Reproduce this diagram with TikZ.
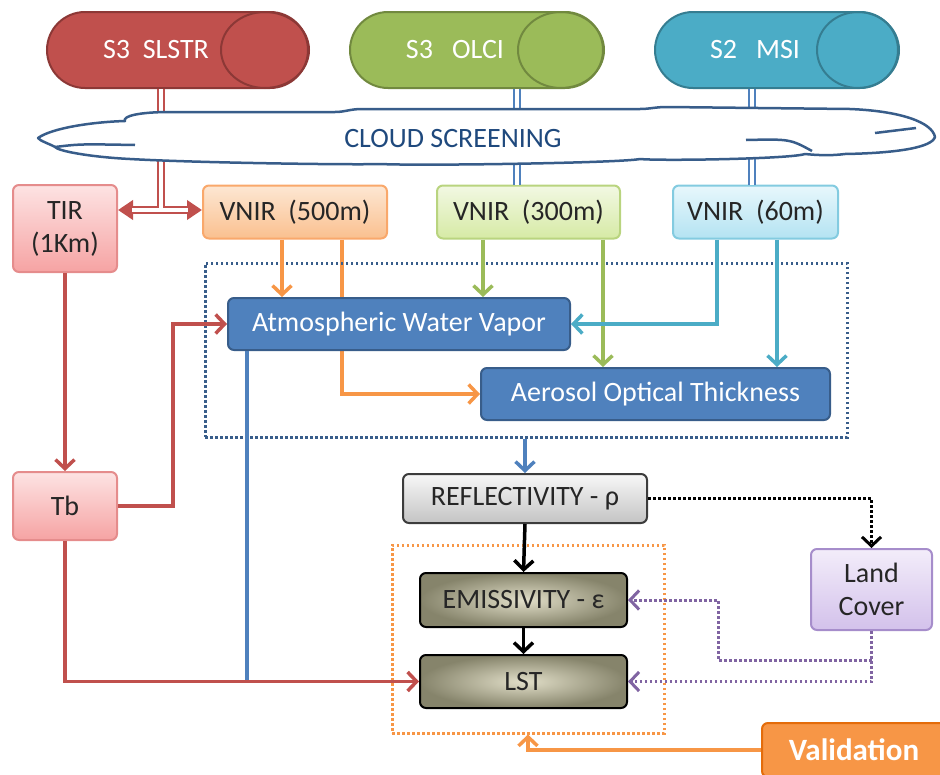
\documentclass[tikz,border=0pt]{standalone}
\usepackage{fontspec}
\setmainfont{Carlito}
\usetikzlibrary{arrows.meta,shapes.misc,calc}
\definecolor{redc}{HTML}{C0504D}
\definecolor{redd}{HTML}{8C3836}
\definecolor{grnc}{HTML}{9BBB59}
\definecolor{grnd}{HTML}{71893F}
\definecolor{cyac}{HTML}{4BACC6}
\definecolor{cyad}{HTML}{357D91}
\definecolor{bluc}{HTML}{4F81BD}
\definecolor{blud}{HTML}{385D8A}
\definecolor{navy}{HTML}{1F497D}
\definecolor{orac}{HTML}{F79646}
\definecolor{orad}{HTML}{E46C0A}
\definecolor{purc}{HTML}{8064A2}
\definecolor{pinkt}{HTML}{FDE3E3}
\definecolor{pinkb}{HTML}{F6A3A3}
\definecolor{pinkd}{HTML}{E58C8C}
\definecolor{oret}{HTML}{FDE7D3}
\definecolor{oreb}{HTML}{FAC08F}
\definecolor{ored}{HTML}{F9A86B}
\definecolor{grt}{HTML}{F2F8E3}
\definecolor{grb}{HTML}{D6EAA5}
\definecolor{grd}{HTML}{B9D47F}
\definecolor{cyt}{HTML}{E8F7FC}
\definecolor{cyb}{HTML}{B3E3F2}
\definecolor{cyd}{HTML}{83CBE0}
\definecolor{gyt}{HTML}{F7F7F7}
\definecolor{gyb}{HTML}{C4C4C4}
\definecolor{gyd}{HTML}{3C3C3C}
\definecolor{khi}{HTML}{E2DFC9}
\definecolor{kho}{HTML}{86846B}
\definecolor{lvt}{HTML}{F3EDFA}
\definecolor{lvb}{HTML}{D3C1EB}
\definecolor{lvd}{HTML}{A68DCB}
\definecolor{txt}{HTML}{262626}
\pgfdeclarelayer{bg}
\pgfsetlayers{bg,main}
\tikzset{
  capsule/.style={rounded rectangle, draw, line width=2pt, minimum height=76pt, text=white, inner sep=0pt},
  box/.style={rounded corners=6pt, draw, line width=2pt, inner sep=0pt, align=center},
  conn/.style={line width=3.5pt, -{Straight Barb[length=9pt,width=19pt]}},
  plain/.style={line width=3.5pt},
  dbl/.style={line width=2.5pt, double=white, double distance=3.5pt},
  dots/.style={line width=3pt, dash pattern=on 2.5pt off 2.5pt},
}
\begin{document}
\begin{tikzpicture}[x=1pt,y=-1pt, font=\fontsize{28}{33}\selectfont]
\path[use as bounding box] (0,0) rectangle (940,774);
\clip (0,0) rectangle (940,774);

% capsules
\node[capsule, fill=redc, draw=redd, minimum width=261pt] (slstr) at (177.5,50) {S3~~SLSTR\hspace*{43pt}};
\draw[redd, line width=2pt] ($(slstr.east)+(-44,0)$) ellipse [x radius=44pt, y radius=38pt];
\node[capsule, fill=grnc, draw=grnd, minimum width=253pt] (olci) at (476.5,50) {S3~~~OLCI\hspace*{43pt}};
\draw[grnd, line width=2pt] ($(olci.east)+(-43,0)$) ellipse [x radius=43pt, y radius=38pt];
\node[capsule, fill=cyac, draw=cyad, minimum width=243pt] (msi) at (776.5,50) {S2~~~MSI\hspace*{43pt}};
\draw[cyad, line width=2pt] ($(msi.east)+(-41,0)$) ellipse [x radius=41pt, y radius=38pt];

% boxes
\node[box, top color=pinkt, bottom color=pinkb, draw=pinkd, text=txt, minimum width=104pt, minimum height=87pt] (tir) at (65,228.5) {TIR\\(1Km)};
\node[box, top color=pinkt, bottom color=pinkb, draw=pinkd, text=txt, minimum width=104pt, minimum height=68pt] (tb) at (65,506) {Tb};
\node[box, top color=oret, bottom color=oreb, draw=ored, text=txt, minimum width=184pt, minimum height=53pt] (v500) at (295,212) {VNIR~~(500m)};
\node[box, top color=grt, bottom color=grb, draw=grd, text=txt, minimum width=183pt, minimum height=53pt] (v300) at (528.5,212) {VNIR~~(300m)};
\node[box, top color=cyt, bottom color=cyb, draw=cyd, text=txt, minimum width=165pt, minimum height=53pt] (v60) at (755.5,212) {VNIR~~(60m)};

\node[box, fill=bluc, draw=blud, text=white, minimum width=342pt, minimum height=52pt] (awv) at (399,324) {Atmospheric Water Vapor};
\node[box, fill=bluc, draw=blud, text=white, minimum width=349pt, minimum height=52pt] (aot) at (655.5,394) {Aerosol Optical Thickness};

\node[draw=blud, dots, minimum width=642pt, minimum height=174pt, inner sep=0pt] (bbox) at (526,350) {};
\node[draw=orac, dots, minimum width=272pt, minimum height=188pt, inner sep=0pt] (obox) at (528,639) {};

\node[box, top color=gyt, bottom color=gyb, draw=gyd, text=txt, minimum width=244pt, minimum height=49pt] (refl) at (525,498.5) {REFLECTIVITY - ρ};
\node[box, inner color=khi, outer color=kho, draw=black, text=txt, minimum width=207pt, minimum height=54pt] (emis) at (523.5,600) {EMISSIVITY - ε};
\node[box, inner color=khi, outer color=kho, draw=black, text=txt, minimum width=207pt, minimum height=53pt] (lst) at (523.5,681.5) {LST};
\node[box, top color=lvt, bottom color=lvb, draw=lvd, text=txt, minimum width=121pt, minimum height=81pt] (land) at (871.5,589.5) {Land\\Cover};
\node[box, fill=orac, draw=orad, text=white, font=\fontsize{31}{34}\selectfont\bfseries, minimum width=184pt, minimum height=54pt] (valid) at (854,750) {Validation};

% coordinates for connector columns
\coordinate (j1) at (161,210);
\coordinate (xo) at (517,0);
\coordinate (xm) at (752,0);
\coordinate (xa) at (282,0);
\coordinate (xb) at (342,0);
\coordinate (xc) at (483,0);
\coordinate (xd) at (603,0);
\coordinate (xe) at (717,0);
\coordinate (xf) at (777,0);
\coordinate (xg) at (173,0);
\coordinate (xh) at (247,0);
\coordinate (k) at (718,660);
\coordinate (xv) at (528,0);

% double lines from sensors
\draw[redc, line width=8.5pt, {Triangle[length=15pt,width=19pt]}-{Triangle[length=15pt,width=19pt]}] (tir.east |- j1) -- (v500.west |- j1);
\draw[white, line width=3.5pt, shorten <=14pt, shorten >=14pt] (tir.east |- j1) -- (v500.west |- j1);
\draw[dbl, redc, shorten >=1.8pt] (slstr.south -| j1) -- (j1);
\draw[dbl, bluc] (olci.south -| xo) -- (v300.north -| xo);
\draw[dbl, bluc] (msi.south -| xm) -- (v60.north -| xm);

% cloud
\draw[blud, line width=2.5pt, fill=white, line join=round]
 (38,138) .. controls (52,128) and (92,122) .. (125,121)
 .. controls (122,116) and (140,112) .. (170,112)
 -- (335,112) .. controls (345,112) and (350,109) .. (362,109)
 -- (640,109) .. controls (650,109) and (655,107) .. (667,107)
 -- (850,109) .. controls (900,111) and (932,122) .. (935,137)
 .. controls (932,147) and (900,153) .. (845,154)
 .. controls (830,156) and (815,155) .. (805,154)
 .. controls (790,159) and (660,161) .. (640,159)
 .. controls (620,163) and (420,166) .. (380,164)
 .. controls (360,165) and (200,163) .. (130,159)
 .. controls (90,157) and (58,151) .. (55,147)
 .. controls (50,144) and (40,141) .. (38,138) -- cycle;
\draw[blud, line width=2.5pt] (55,147) .. controls (80,144) .. (135,145);
\draw[blud, line width=2.5pt] (875,133) -- (916,128);
\draw[blud, line width=2.5pt] (746,140) .. controls (790,139) .. (812,151);
\node[text=navy] (cs) at (453,139) {CLOUD SCREENING};

% VNIR connectors
\begin{pgfonlayer}{bg}
\draw[conn, orac] (v500.south -| xb) |- (aot.west);
\end{pgfonlayer}
\draw[conn, orac] (v500.south -| xa) -- (awv.north -| xa);
\draw[conn, grnc] (v300.south -| xc) -- (awv.north -| xc);
\draw[conn, grnc] (v300.south -| xd) -- (aot.north -| xd);
\draw[conn, cyac] (v60.south -| xe) |- (awv.east);
\draw[conn, cyac] (v60.south -| xf) -- (aot.north -| xf);

% TIR / Tb connectors
\draw[conn, redc] (tir.south) -- (tb.north);
\draw[conn, redc] (tb.east) -- (tb.east -| xg) |- (awv.west);
\draw[plain, bluc] (awv.south -| xh) -- (xh |- lst.west);
\draw[conn, redc] (tb.south) |- (lst.west);

% lower chain
\draw[conn, bluc] (bbox.south -| refl.north) -- (refl.north);
\draw[conn, black] (refl.south) -- (emis.north);
\draw[conn, black] (emis.south) -- (lst.north);
\draw[conn, dots, black] (refl.east) -| (land.north);
\draw[conn, dots, purc] (land.south) |- (lst.east);
\draw[conn, dots, purc] (land.south |- k) -- (k) |- (emis.east);
\draw[conn, orac] (valid.west) -| (obox.south -| xv);
\end{tikzpicture}
\end{document}
